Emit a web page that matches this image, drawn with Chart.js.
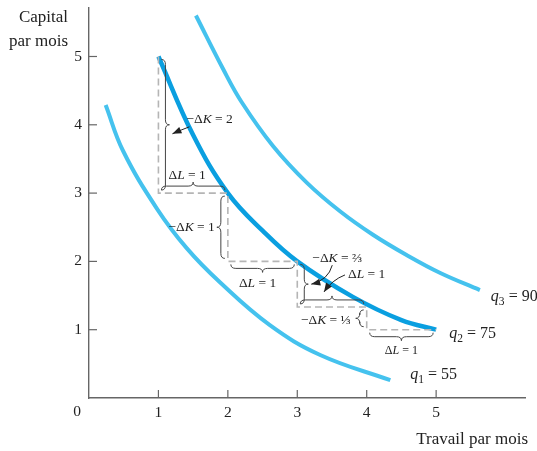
<!DOCTYPE html>
<html>
<head>
<meta charset="utf-8">
<script src="https://cdn.jsdelivr.net/npm/chart.js@4.4.1/dist/chart.umd.min.js"></script>
<style>
  html, body { margin: 0; padding: 0; background: #fff; }
  #wrap { width: 537px; height: 451px; position: relative; }
</style>
</head>
<body>
<div id="wrap"><canvas id="isoChart"></canvas></div>
<script>
// Isoquants (Travail L, Capital K)
const q1X = [0.24, 0.49, 0.98, 1.41, 1.89, 2.6, 3.33, 4.34];
const q1Y = [4.29, 3.62, 2.77, 2.19, 1.69, 1.07, 0.63, 0.26];
const q2X = [1, 1.5, 2, 2.5, 3, 3.8, 4.5, 5];
const q2Y = [5, 3.85, 3, 2.45, 2, 1.48, 1.14, 1];
const q3X = [1.54, 1.93, 2.2, 2.65, 3.14, 3.62, 4.09, 4.58, 5.06, 5.63];
const q3Y = [5.60, 4.82, 4.33, 3.69, 3.15, 2.73, 2.39, 2.09, 1.83, 1.58];
const curveNames = ['1', '2', '3'];
const curveValues = ['55', '75', '90'];

// staircase along q2
const stairX = [1, 1, 2, 2, 3, 3, 4, 4, 5];
const stairY = [5, 3, 3, 2, 2, 4 / 3, 4 / 3, 1, 1];
const stepLabels = ['2', '1', '1', '1', '⅔', '1', '⅓', '1'];

const xTicks = [1, 2, 3, 4, 5];
const yTicks = [1, 2, 3, 4, 5];
const xMax = 6.28, yMax = 5.71;

const SERIF = '"Liberation Serif", "DejaVu Serif", serif';
const LIGHT = '#45c2ee';
const DARK = '#0a9fe0';

const toPts = (xs, ys) => xs.map((x, i) => ({ x: x, y: ys[i] }));

// text with italic / subscript pieces
function drawRich(ctx, parts, x, y, size, align) {
    let w = 0;
    parts.forEach(p => {
        const s = p.sub ? size * 0.72 : size;
        ctx.font = (p.it ? 'italic ' : '') + s + 'px ' + SERIF;
        p.w = ctx.measureText(p.t).width;
        w += p.w;
    });
    let cx = align === 'right' ? x - w : align === 'center' ? x - w / 2 : x;
    ctx.textBaseline = 'middle';
    ctx.textAlign = 'left';
    parts.forEach(p => {
        const s = p.sub ? size * 0.72 : size;
        ctx.font = (p.it ? 'italic ' : '') + s + 'px ' + SERIF;
        ctx.fillText(p.t, cx, p.sub ? y + size * 0.3 : y);
        cx += p.w;
    });
}

// curly brace from a to b, bulging to side (unit normal nx, ny)
function drawBrace(ctx, ax, ay, bx, by, nx, ny) {
    const L = Math.hypot(bx - ax, by - ay);
    const ux = (bx - ax) / L, uy = (by - ay) / L;
    const h = 4, r = 5;
    const P = (u, v) => [ax + ux * u + nx * v, ay + uy * u + ny * v];
    ctx.beginPath();
    let p = P(0, 0); ctx.moveTo(p[0], p[1]);
    let c = P(0, h), e = P(r, h); ctx.quadraticCurveTo(c[0], c[1], e[0], e[1]);
    e = P(L / 2 - r, h); ctx.lineTo(e[0], e[1]);
    c = P(L / 2, h); e = P(L / 2, 2 * h); ctx.quadraticCurveTo(c[0], c[1], e[0], e[1]);
    e = P(L / 2 + r, h); ctx.quadraticCurveTo(c[0], c[1], e[0], e[1]);
    e = P(L - r, h); ctx.lineTo(e[0], e[1]);
    c = P(L, h); e = P(L, 0); ctx.quadraticCurveTo(c[0], c[1], e[0], e[1]);
    ctx.stroke();
    return P(L / 2, 2 * h);
}

function drawArrow(ctx, x0, y0, cx, cy, x1, y1) {
    ctx.beginPath();
    ctx.moveTo(x0, y0);
    ctx.quadraticCurveTo(cx, cy, x1, y1);
    ctx.stroke();
    const a = Math.atan2(y1 - cy, x1 - cx);
    ctx.beginPath();
    ctx.moveTo(x1, y1);
    ctx.lineTo(x1 - 9 * Math.cos(a) + 3.5 * Math.sin(a), y1 - 9 * Math.sin(a) - 3.5 * Math.cos(a));
    ctx.lineTo(x1 - 9 * Math.cos(a) - 3.5 * Math.sin(a), y1 - 9 * Math.sin(a) + 3.5 * Math.cos(a));
    ctx.closePath();
    ctx.fill();
}

const decorPlugin = {
    id: 'decor',
    afterDraw(chart) {
        const ctx = chart.ctx;
        const xs = chart.scales.x, ys = chart.scales.y;
        const area = chart.chartArea;
        const px = v => xs.getPixelForValue(v);
        const py = v => ys.getPixelForValue(v);
        ctx.save();

        // inward tick marks
        ctx.strokeStyle = '#666';
        ctx.lineWidth = 1.2;
        xTicks.forEach(v => {
            ctx.beginPath(); ctx.moveTo(px(v), area.bottom); ctx.lineTo(px(v), area.bottom - 8); ctx.stroke();
        });
        yTicks.forEach(v => {
            ctx.beginPath(); ctx.moveTo(area.left, py(v)); ctx.lineTo(area.left + 8, py(v)); ctx.stroke();
        });

        ctx.fillStyle = '#222';
        // origin, axis titles
        drawRich(ctx, [{ t: '0' }], area.left - 12, area.bottom + 14, 15.5, 'center');
        drawRich(ctx, [{ t: 'Capital' }], area.left - 21, 18, 17, 'right');
        drawRich(ctx, [{ t: 'par mois' }], area.left - 21, 42, 17, 'right');
        drawRich(ctx, [{ t: 'Travail par mois' }], 528, 440, 17, 'right');

        // curve labels
        const ends = [[q1X, q1Y, 20, -5], [q2X, q2Y, 13, 4], [q3X, q3Y, 11, 7]];
        ends.forEach((e, i) => {
            const n = e[0].length - 1;
            drawRich(ctx, [{ t: 'q', it: true }, { t: curveNames[i], sub: true }, { t: ' = ' + curveValues[i] }],
                px(e[0][n]) + e[2], py(e[1][n]) + e[3], 16, 'left');
        });

        // braces on each step
        ctx.strokeStyle = '#444';
        ctx.lineWidth = 1;
        const cusps = [];
        for (let i = 0; i < stairX.length - 1; i++) {
            const x0 = px(stairX[i]), y0 = py(stairY[i]);
            const x1 = px(stairX[i + 1]), y1 = py(stairY[i + 1]);
            const vertical = stairX[i] === stairX[i + 1];
            const k = Math.floor(i / 2);
            let nx = 0, ny = 0;
            if (vertical) nx = (k % 2 === 0) ? 1 : -1;
            else ny = (k % 2 === 0) ? -1 : 1;
            const off = 3, inset = 3;
            const ax = x0 + nx * off + (vertical ? 0 : inset), ay = y0 + ny * off + (vertical ? inset : 0);
            const bx = x1 + nx * off - (vertical ? 0 : inset), by = y1 + ny * off - (vertical ? inset : 0);
            cusps.push(drawBrace(ctx, ax, ay, bx, by, nx, ny));
        }

        // brace labels
        ctx.fillStyle = '#222';
        ctx.strokeStyle = '#222';
        const dK = v => [{ t: '−Δ' }, { t: 'K', it: true }, { t: ' = ' + v }];
        const dL = v => [{ t: 'Δ' }, { t: 'L', it: true }, { t: ' = ' + v }];
        let c;
        c = cusps[0];
        drawRich(ctx, dK(stepLabels[0]), c[0] + 17, c[1] - 5, 13.5, 'left');
        drawArrow(ctx, c[0] + 20, c[1] + 2, c[0] + 12, c[1] + 5, c[0] + 3, c[1] + 9);
        c = cusps[1];
        drawRich(ctx, dL(stepLabels[1]), c[0] - 6, c[1] - 7, 13.5, 'center');
        c = cusps[2];
        drawRich(ctx, dK(stepLabels[2]), c[0] - 2, c[1], 13.5, 'right');
        c = cusps[3];
        drawRich(ctx, dL(stepLabels[3]), c[0] - 5, c[1] + 11, 13.5, 'center');
        c = cusps[4];
        drawRich(ctx, dK(stepLabels[4]), c[0] + 4, c[1] - 26, 13.5, 'left');
        drawArrow(ctx, c[0] + 24, c[1] - 19, c[0] + 20, c[1] - 4, c[0] + 3, c[1]);
        c = cusps[5];
        drawRich(ctx, dL(stepLabels[5]), c[0] + 16, c[1] - 21, 13.5, 'left');
        drawArrow(ctx, c[0] + 13, c[1] - 21, c[0] + 0, c[1] - 16, c[0] - 8, c[1] - 4);
        c = cusps[6];
        drawRich(ctx, dK(stepLabels[6]), c[0] - 5, c[1] + 2, 13.5, 'right');
        c = cusps[7];
        drawRich(ctx, dL(stepLabels[7]), c[0], c[1] + 10, 12, 'center');

        ctx.restore();
    }
};

const noPad = s => { s.paddingTop = 0; s.paddingBottom = 0; s.paddingLeft = 0; s.paddingRight = 0; };

new Chart(document.getElementById('isoChart').getContext('2d'), {
    type: 'line',
    data: {
        datasets: [
            { label: 'escalier', data: toPts(stairX, stairY), borderColor: '#b5b5b5', borderWidth: 1.6, borderDash: [7, 4], tension: 0, pointRadius: 0, fill: false },
            { label: 'q1', data: toPts(q1X, q1Y), borderColor: LIGHT, borderWidth: 4, tension: 0.4, pointRadius: 0, fill: false },
            { label: 'q3', data: toPts(q3X, q3Y), borderColor: LIGHT, borderWidth: 4, tension: 0.4, pointRadius: 0, fill: false },
            { label: 'q2', data: toPts(q2X, q2Y), borderColor: DARK, borderWidth: 4.5, tension: 0.4, pointRadius: 0, fill: false }
        ]
    },
    options: {
        responsive: true,
        maintainAspectRatio: false,
        animation: false,
        layout: { padding: { top: 8, right: 12, left: 0, bottom: 0 } },
        plugins: { legend: { display: false }, tooltip: { enabled: false } },
        scales: {
            x: {
                type: 'linear', min: 0, max: xMax,
                afterFit: s => { s.height = 53; noPad(s); },
                afterBuildTicks: s => { s.ticks = xTicks.map(v => ({ value: v })); },
                grid: { display: false, drawTicks: false },
                border: { display: true, color: '#666', width: 1.4 },
                ticks: { color: '#222', padding: 6, font: { family: SERIF, size: 15.5 } }
            },
            y: {
                type: 'linear', min: 0, max: yMax,
                afterFit: s => { s.width = 89; noPad(s); },
                afterBuildTicks: s => { s.ticks = yTicks.map(v => ({ value: v })); },
                grid: { display: false, drawTicks: false },
                border: { display: true, color: '#666', width: 1.4 },
                ticks: { color: '#222', padding: 7, font: { family: SERIF, size: 15.5 } }
            }
        }
    },
    plugins: [decorPlugin]
});
</script>
</body>
</html>
